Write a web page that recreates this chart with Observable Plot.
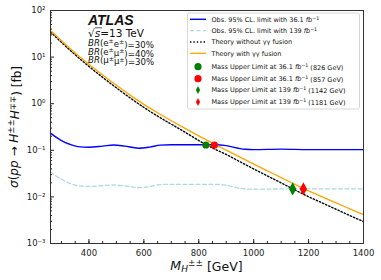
<!DOCTYPE html>
<html><head><meta charset="utf-8">
<script src="https://cdn.jsdelivr.net/npm/d3@7"></script>
<script src="https://cdn.jsdelivr.net/npm/@observablehq/plot@0.6"></script>
<style>body{margin:0;background:#fff} svg{font-family:"DejaVu Sans",sans-serif}</style>
</head><body><div id="chart"></div>
<script>
// ---- data ----
const massTheory = [260,300,350,400,450,500,550,600,650,700,750,800,850,900,950,1000,1050,1100,1150,1200,1250,1300,1350,1400];
const theoryWith = [37.2,22.4,12.3,7.0,4.12,2.48,1.53,0.966,0.638,0.431,0.295,0.204,0.143,0.101,0.0716,0.0507,0.0363,0.0260,0.0186,0.0135,0.0100,0.00741,0.00556,0.00417];
const theoryWithout = [34.7,20.7,11.2,6.31,3.67,2.19,1.33,0.832,0.543,0.363,0.245,0.162,0.112,0.0813,0.0569,0.0398,0.0282,0.0200,0.0141,0.0101,0.00741,0.00543,0.00398,0.00295];
const massLimit = [260,280,300,330,360,400,450,490,530,580,620,660,700,800,860,900,940,970,1000,1100,1200,1300,1400];
const obs36 = [0.234,0.191,0.162,0.135,0.120,0.116,0.123,0.130,0.123,0.111,0.117,0.129,0.132,0.132,0.132,0.126,0.112,0.105,0.1035,0.106,0.1035,0.1035,0.1035];
const obs139 = [0.0347,0.0282,0.0240,0.0195,0.0174,0.0168,0.0174,0.0180,0.0172,0.0158,0.0166,0.0184,0.0186,0.0186,0.0186,0.0178,0.0157,0.0148,0.0146,0.0148,0.0148,0.0148,0.0148];
const limitMass = [826, 857, 1142, 1181];
const limitXsec = [0.130, 0.130, 0.0148, 0.0148];
const limitColor = ["green", "red", "green", "red"];
const limitShape = ["circle", "circle", "thin", "thin"];
const xTicks = [400,600,800,1000,1200,1400];
const yTicks = [1e-3,1e-2,1e-1,1,10,100];
const yTickLabels = ["10⁻³","10⁻²","10⁻¹","10⁰","10¹","10²"];
const legendLabels = [
  [["Obs. 95% CL. limit with 36.1 "],["fb","i"],["−1","sup"]],
  [["Obs. 95% CL. limit with 139 "],["fb","i"],["−1","sup"]],
  [["Theory without γγ fusion"]],
  [["Theory with γγ fusion"]],
  [["Mass Upper Limit at 36.1 "],["fb","i"],["−1","sup"],[" (826 GeV)"]],
  [["Mass Upper Limit at 36.1 "],["fb","i"],["−1","sup"],[" (857 GeV)"]],
  [["Mass Upper Limit at 139 "],["fb","i"],["−1","sup"],[" (1142 GeV)"]],
  [["Mass Upper Limit at 139 "],["fb","i"],["−1","sup"],[" (1181 GeV)"]]
];

// ---- tables ----
const theory = massTheory.map((m,i)=>({m, w: theoryWith[i], wo: theoryWithout[i]}));
const limits = massLimit.map((m,i)=>({m, a: obs36[i], b: obs139[i]}));
const points = limitMass.map((m,i)=>({m, s: limitXsec[i], c: limitColor[i], shape: limitShape[i]}));
const yMinor = [];
for (const d of [1e-3,1e-2,1e-1,1,10]) for (let k=2;k<=9;k++) yMinor.push(+(d*k).toPrecision(3));
const xMinor = [];
for (let v=300; v<=1400; v+=50) xMinor.push(v);

const thinDiamond = {
  draw(ctx, size) {
    const h = Math.sqrt(size) * 0.75, w = h * 0.55;
    ctx.moveTo(0,-h); ctx.lineTo(w,0); ctx.lineTo(0,h); ctx.lineTo(-w,0); ctx.closePath();
  }
};

const plot = Plot.plot({
  width: 381, height: 280,
  marginLeft: 50, marginRight: 18, marginTop: 10, marginBottom: 37,
  style: {fontFamily: "DejaVu Sans, sans-serif", fontSize: "8.5px", color: "#222", background: "white"},
  x: {domain: [260, 1400]},
  y: {type: "log", domain: [1e-3, 100]},
  marks: [
    Plot.line(limits, {x: "m", y: "b", stroke: "#add8e6", strokeWidth: 1.3, strokeDasharray: "4,2.5", curve: "monotone-x"}),
    Plot.line(limits, {x: "m", y: "a", stroke: "#0000ff", strokeWidth: 1.4, curve: "monotone-x"}),
    Plot.line(theory, {x: "m", y: "wo", stroke: "black", strokeWidth: 1.4, strokeDasharray: "1.4,2", curve: "monotone-x"}),
    Plot.line(theory, {x: "m", y: "w", stroke: "orange", strokeWidth: 1.3, curve: "monotone-x"}),
    Plot.dot(points.filter(d=>d.shape==="circle"), {x: "m", y: "s", fill: "c", r: 3.6, stroke: null}),
    Plot.dot(points.filter(d=>d.shape==="thin"), {x: "m", y: "s", fill: "c", symbol: thinDiamond, r: 5, stroke: null}),
    Plot.axisX({ticks: xTicks, tickSize: -4, tickPadding: 10, label: null, tickFormat: d => String(d)}),
    Plot.axisX({ticks: xMinor, tickSize: -2, tickFormat: () => "", label: null}),
    Plot.axisY({ticks: yTicks, tickSize: -4, tickPadding: 9, label: null, tickFormat: d => yTickLabels[yTicks.indexOf(d)]}),
    Plot.axisY({ticks: yMinor, tickSize: -2, tickFormat: () => "", label: null}),
    Plot.frame({stroke: "#333", strokeWidth: 1})
  ]
});
document.getElementById("chart").append(plot);

// ---- annotations & legend ----
const svg = d3.select(plot);
function richLine(sel, parts) {
  let shift = 0;
  for (const [t, s] of parts) {
    const ts = sel.append("tspan").text(t);
    let target = 0;
    if (s && (s.startsWith("sup"))) { ts.attr("font-size","0.72em"); target = -0.42; }
    else if (s && s.startsWith("sub")) { ts.attr("font-size","0.72em"); target = 0.25; }
    if (s && s.endsWith("i")) ts.attr("font-style","italic");
    ts.attr("dy", ((target - shift)) + "em");
    shift = target;
  }
}

const ann = svg.append("g").attr("fill", "#111").attr("text-anchor", "start");
ann.append("text").attr("x", 88).attr("y", 25).attr("font-family", "Liberation Sans, Arial, sans-serif")
  .attr("font-weight", "bold").attr("font-style", "italic").attr("font-size", 14).text("ATLAS");
richLine(ann.append("text").attr("x", 88).attr("y", 36.5).attr("font-size", 10.5),
  [["√"],["s","i"],["=13 TeV"]]);
const brs = [[["BR","i"],["(e"],["±","sup"],["e"],["±","sup"],[")=30%"]],
             [["BR","i"],["(e"],["±","sup"],["μ"],["±","sup"],[")=40%"]],
             [["BR","i"],["(μ"],["±","sup"],["μ"],["±","sup"],[")=30%"]]];
brs.forEach((p, i) => richLine(ann.append("text").attr("x", 88).attr("y", 46 + i*8.7).attr("font-size", 8.6), p));
ann.append("line").attr("x1", 95).attr("x2", 102).attr("y1", 27.8).attr("y2", 27.8).attr("stroke", "#111").attr("stroke-width", 0.7);

// axis labels
richLine(svg.append("text").attr("x", 206.5).attr("y", 270).attr("text-anchor", "middle").attr("font-size", 12.5).attr("fill","#111"),
  [["M","i"],["H","subi"],["±±","sup"],[" [GeV]"]]);
richLine(svg.append("text").attr("transform", "translate(18,127) rotate(-90)").attr("text-anchor", "middle").attr("font-size", 12).attr("fill","#111"),
  [["σ","i"],["("],["pp","i"],[" → "],["H","i"],["±±","sup"],["H","i"],["∓∓","sup"],[") [fb]"]]);

// legend
const lg = svg.append("g").attr("text-anchor", "start");
lg.append("rect").attr("x", 187.5).attr("y", 13).attr("width", 172).attr("height", 96).attr("rx", 2)
  .attr("fill", "white").attr("fill-opacity", 0.85).attr("stroke", "#ccc").attr("stroke-width", 0.8);
const rowY = [19.3, 30.7, 42, 53.3, 66.7, 78.7, 90, 102];
const handles = [
  {type:"line", stroke:"#0000ff", dash:null, w:1.4},
  {type:"line", stroke:"#add8e6", dash:"4,2.5", w:1.3},
  {type:"line", stroke:"black", dash:"1.4,2", w:1.4},
  {type:"line", stroke:"orange", dash:null, w:1.3},
  {type:"circle", fill:"green"},
  {type:"circle", fill:"red"},
  {type:"diamond", fill:"green"},
  {type:"diamond", fill:"red"}
];
handles.forEach((h, i) => {
  const y = rowY[i];
  if (h.type === "line") {
    const l = lg.append("line").attr("x1", 190).attr("x2", 206).attr("y1", y).attr("y2", y)
      .attr("stroke", h.stroke).attr("stroke-width", h.w);
    if (h.dash) l.attr("stroke-dasharray", h.dash);
  } else if (h.type === "circle") {
    lg.append("circle").attr("cx", 198).attr("cy", y).attr("r", 3.6).attr("fill", h.fill);
  } else {
    lg.append("path").attr("d", `M198,${y-3.9}L200.1,${y}L198,${y+3.9}L195.9,${y}Z`).attr("fill", h.fill);
  }
  richLine(lg.append("text").attr("x", 211.5).attr("y", y + 2.3).attr("font-size", 6.5).attr("fill", "#111"), legendLabels[i]);
});
</script></body></html>
